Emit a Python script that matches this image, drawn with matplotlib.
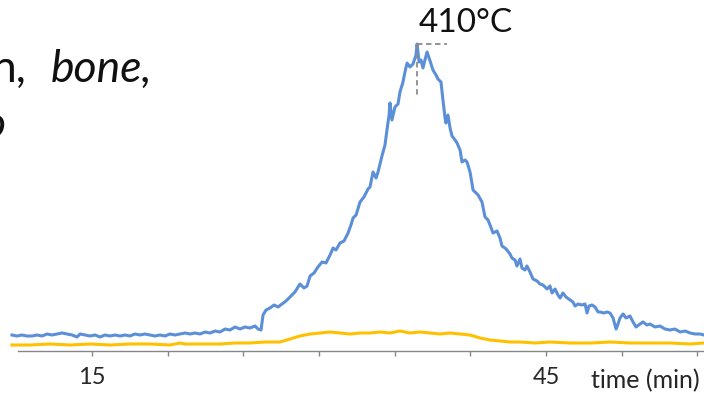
import matplotlib.pyplot as plt
import numpy as np

# readings from the picture: time (min) and signal (arb. units)
blue_time = [
    9.71, 10.04, 10.37, 10.70, 11.04, 11.37, 11.70, 12.03, 12.36, 12.69,
    13.02, 13.35, 13.68, 14.01, 14.21, 14.54, 14.87, 15.20, 15.53, 15.86,
    16.19, 16.52, 16.85, 17.18, 17.51, 17.84, 18.17, 18.50, 18.83, 19.16,
    19.49, 19.82, 20.15, 20.48, 20.82, 21.15, 21.48, 21.81, 22.14, 22.47,
    22.80, 23.13, 23.46, 23.79, 24.12, 24.45, 24.78, 25.11, 25.44, 25.77,
    25.97, 26.17, 26.30, 26.50, 26.76, 27.03, 27.29, 27.56, 27.82, 28.08,
    28.41, 28.74, 29.01, 29.21, 29.41, 29.67, 29.93, 30.20, 30.46, 30.73,
    30.93, 31.12, 31.39, 31.65, 31.92, 32.11, 32.25, 32.45, 32.71, 32.97,
    33.24, 33.37, 33.57, 33.77, 33.90, 34.16, 34.36, 34.49, 34.63, 34.69,
    34.82, 35.02, 35.22, 35.35, 35.55, 35.68, 35.82, 36.01, 36.21, 36.41,
    36.48, 36.61, 36.74, 36.87, 37.00, 37.14, 37.34, 37.53, 37.73, 37.86,
    38.06, 38.19, 38.33, 38.39, 38.52, 38.66, 38.79, 38.99, 39.12, 39.32,
    39.45, 39.65, 39.78, 39.98, 40.18, 40.31, 40.51, 40.77, 40.97, 41.17,
    41.30, 41.50, 41.76, 41.96, 42.09, 42.29, 42.42, 42.62, 42.75, 42.95,
    43.08, 43.28, 43.41, 43.61, 43.74, 43.94, 44.14, 44.41, 44.60, 44.80,
    45.07, 45.26, 45.40, 45.60, 45.79, 45.93, 46.12, 46.32, 46.59, 46.78,
    46.92, 47.12, 47.38, 47.58, 47.71, 47.84, 48.04, 48.24, 48.44, 48.57,
    48.83, 49.03, 49.23, 49.43, 49.63, 49.76, 49.89, 50.09, 50.29, 50.55,
    50.75, 50.95, 51.21, 51.41, 51.67, 51.87, 52.20, 52.53, 52.86, 53.19,
    53.52, 53.86, 54.19, 54.52, 54.85, 55.18, 55.44,
]
blue_signal = [
    16, 15, 16, 15, 15, 16, 15, 17, 16, 17,
    18, 17, 16, 14, 17, 16, 15, 16, 14, 16,
    15, 16, 15, 16, 15, 17, 16, 17, 16, 15,
    16, 15, 17, 16, 17, 18, 17, 18, 17, 19,
    18, 20, 19, 22, 21, 24, 22, 24, 23, 25,
    22, 21, 36, 41, 43, 46, 44, 47, 50, 54,
    59, 67, 63, 65, 75, 78, 84, 89, 88, 96,
    103, 101, 108, 110, 118, 126, 133, 136, 149, 154,
    162, 164, 179, 173, 179, 195, 206, 221, 236, 248,
    231, 244, 247, 259, 269, 279, 288, 284, 287, 296,
    307, 289, 291, 283, 291, 299, 290, 281, 276, 272,
    269, 251, 233, 228, 236, 223, 215, 211, 208, 201,
    189, 191, 189, 179, 161, 159, 156, 149, 134, 131,
    126, 118, 120, 113, 105, 103, 101, 97, 93, 91,
    85, 92, 83, 81, 85, 79, 72, 70, 67, 66,
    62, 65, 58, 62, 56, 53, 58, 54, 51, 49,
    45, 47, 46, 47, 38, 45, 46, 44, 39, 39,
    38, 39, 38, 33, 22, 27, 33, 37, 33, 35,
    29, 24, 27, 29, 26, 27, 24, 25, 22, 21,
    22, 19, 20, 18, 17, 17, 16,
]

yellow_time = [
    9.71, 10.90, 12.22, 13.55, 14.87, 16.19, 17.51, 18.83, 20.15, 20.82,
    21.15, 22.14, 23.46, 24.45, 25.44, 26.43, 27.42, 28.08, 28.74, 29.41,
    30.07, 30.73, 31.39, 32.05, 32.71, 33.37, 34.03, 34.69, 35.35, 36.01,
    36.67, 37.34, 38.00, 38.66, 39.32, 39.98, 40.64, 41.30, 41.96, 42.62,
    43.28, 44.27, 45.26, 46.59, 47.91, 49.23, 50.55, 51.87, 53.19, 54.52,
    55.44,
]
yellow_signal = [
    6, 6, 7, 6, 7, 6, 7, 7, 6, 8,
    7, 7, 7, 8, 8, 9, 9, 12, 15, 17,
    18, 19, 18, 17, 18, 18, 19, 18, 20, 18,
    19, 18, 17, 18, 17, 16, 13, 11, 10, 9,
    9, 8, 9, 8, 8, 9, 8, 8, 8, 7,
    8,
]

tick_values = [15, 20, 25, 30, 35, 40, 45, 50, 55]
tick_labels = ['15', '', '', '', '', '', '45', '', '']
peak_label = '410°C'

plt.rcParams['font.family'] = ['Lato', 'DejaVu Sans']

fig = plt.figure(figsize=(7.04, 3.95), dpi=100)
ax = fig.add_axes([0, 0.1114, 1, 0.8886])
ax.set_xlim(8.92, 55.44)
ax.set_ylim(0, 351)

ax.plot(yellow_time, yellow_signal, color='#FFC000', lw=2.2, zorder=2)
ax.plot(blue_time, blue_signal, color='#5B8FD8', lw=2.2, zorder=3)

# peak marker
i_peak = int(np.argmax(blue_signal))
t_peak = blue_time[i_peak]
s_peak = blue_signal[i_peak]
ax.plot([t_peak, t_peak], [s_peak, s_peak - 53], color='#8c8c8c',
        lw=1.3, ls=(0, (3, 2)), zorder=4)
ax.plot([t_peak, t_peak + 2.0], [s_peak, s_peak], color='#8c8c8c',
        lw=1.3, ls=(0, (3, 2)), zorder=4)
ax.text(t_peak + 0.1, s_peak + 6, peak_label, fontsize=24, color='#111111',
        ha='left', va='bottom')

for side in ['top', 'right', 'left']:
    ax.spines[side].set_visible(False)
ax.spines['bottom'].set_bounds(10.1, 55.44)
ax.spines['bottom'].set_color('#868686')
ax.spines['bottom'].set_linewidth(1.0)
ax.set_yticks([])
ax.set_xticks(tick_values)
ax.set_xticklabels(tick_labels)
ax.tick_params(axis='x', direction='out', length=3.5, width=1.0,
               color='#868686', labelsize=17, labelcolor='#262626', pad=8)

fig.text(700 / 704, 1 - 381 / 395, 'time (min)', fontsize=18, color='#262626',
         ha='right', va='center')

# partially cropped title
fig.text(27 / 704, 1 - 82 / 395, 'n,', fontsize=32, color='#111111',
         ha='right', va='baseline')
fig.text(51 / 704, 1 - 82 / 395, 'bone,', fontsize=32, style='italic',
         color='#111111', ha='left', va='baseline')
fig.text(6 / 704, 1 - 138 / 395, 'o', fontsize=32, style='italic',
         color='#111111', ha='right', va='baseline')

fig.savefig('out.png', dpi=100)
